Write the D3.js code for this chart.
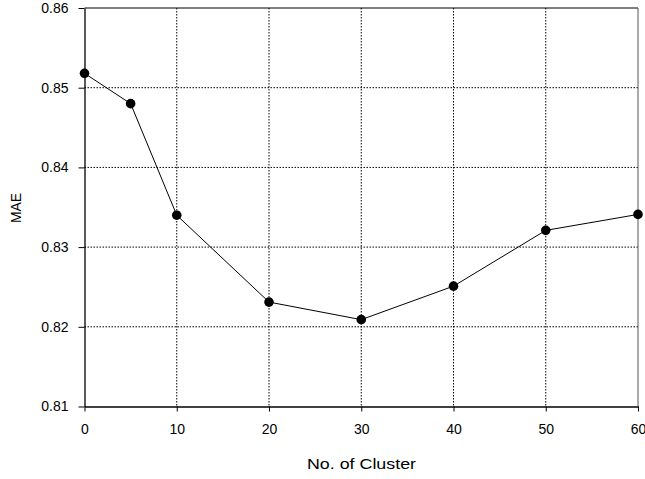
<!DOCTYPE html>
<html><head><meta charset="utf-8">
<script src="https://cdn.jsdelivr.net/npm/d3@7"></script>
<style>body{margin:0;background:#fff}svg{display:block}text{font-family:"Liberation Sans",Arial,sans-serif;fill:#000}</style>
</head><body><svg id="c" width="645" height="479"></svg>
<script>
const clusters = [0, 5, 10, 20, 30, 40, 50, 60];
const mae = [0.8518, 0.8480, 0.8340, 0.8231, 0.8209, 0.8251, 0.8321, 0.8341];
const xTicks = [0, 10, 20, 30, 40, 50, 60];
const yTicks = [0.81, 0.82, 0.83, 0.84, 0.85, 0.86];

const svg = d3.select("#c");
const L = 84.5, R = 638, T = 8, B = 406.5;
const x = d3.scaleLinear().domain([0, 60]).range([L, R]);
const y = d3.scaleLinear().domain([0.81, 0.86]).range([B, T]);

// gridlines
svg.append("g").selectAll("line").data(xTicks.filter(d => d > 0 && d < 60)).join("line")
  .attr("x1", d => x(d)).attr("x2", d => x(d)).attr("y1", T).attr("y2", B)
  .attr("stroke", "#000").attr("stroke-width", 1).attr("stroke-dasharray", "1.5,1.5");
svg.append("g").selectAll("line").data(yTicks.filter(d => d > 0.81 && d < 0.86)).join("line")
  .attr("x1", L).attr("x2", R).attr("y1", d => y(d)).attr("y2", d => y(d))
  .attr("stroke", "#000").attr("stroke-width", 1).attr("stroke-dasharray", "1.5,1.5");

// frame: top and right
svg.append("line").attr("x1", L).attr("x2", R).attr("y1", T).attr("y2", T).attr("stroke", "#000").attr("stroke-width", 1.2);
svg.append("line").attr("x1", R).attr("x2", R).attr("y1", T).attr("y2", B).attr("stroke", "#555").attr("stroke-width", 1);

// axes
const xAxis = d3.axisBottom(x).tickValues(xTicks).tickFormat(d3.format("d")).tickSize(5).tickSizeOuter(0).tickPadding(13);
const gx = svg.append("g").attr("transform", `translate(0,${B})`).call(xAxis);
const yAxis = d3.axisLeft(y).tickValues(yTicks).tickFormat(d3.format(".2f")).tickSize(6).tickSizeOuter(0).tickPadding(10);
const gy = svg.append("g").attr("transform", `translate(${L},0)`).call(yAxis);
[gx, gy].forEach(g => {
  g.attr("font-size", 14).attr("font-family", "Liberation Sans, Arial, sans-serif");
  g.select(".domain").attr("stroke", "#000").attr("stroke-width", 1.3);
  g.selectAll(".tick line").attr("stroke", "#000");
  g.selectAll(".tick text").attr("fill", "#000");
});

// line + points
const line = d3.line().x((d, i) => x(clusters[i])).y(d => y(d));
svg.append("path").datum(mae).attr("d", line).attr("fill", "none").attr("stroke", "#000").attr("stroke-width", 1);
svg.append("g").selectAll("circle").data(mae).join("circle")
  .attr("cx", (d, i) => x(clusters[i])).attr("cy", d => y(d)).attr("r", 4.8).attr("fill", "#000");

// titles
svg.append("text").attr("x", 361.5).attr("y", 469).attr("text-anchor", "middle").attr("font-size", 15.5)
  .attr("textLength", 109).attr("lengthAdjust", "spacingAndGlyphs").text("No. of Cluster");
svg.append("text").attr("transform", "translate(20.5,208) rotate(-90)").attr("text-anchor", "middle").attr("font-size", 15)
  .attr("textLength", 30).attr("lengthAdjust", "spacingAndGlyphs").text("MAE");
</script></body></html>
